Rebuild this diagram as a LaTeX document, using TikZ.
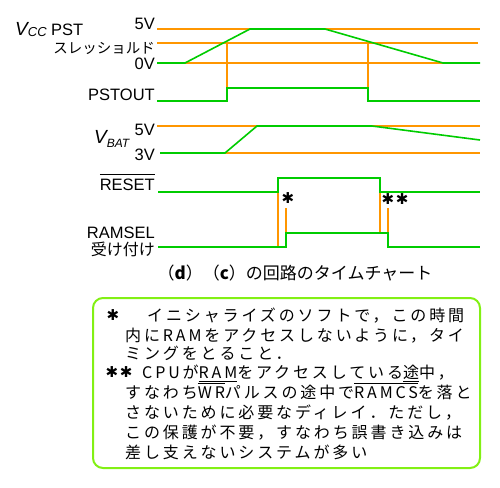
\documentclass[tikz,border=0pt]{standalone}
\usepackage{fontspec}
\setmainfont{Liberation Sans}
\newfontfamily\jpfont{Noto Sans CJK JP}
\newfontfamily\jpwide{Noto Sans CJK JP}[LetterSpace=18]
\newfontfamily\symfont{DejaVu Sans}
\usepackage{xcolor}
\usepackage{tikz}
\usetikzlibrary{positioning}

\definecolor{railorange}{RGB}{255,150,0}
\definecolor{siggreen}{RGB}{0,204,0}
\definecolor{framelime}{RGB}{130,240,20}

\newsavebox\markbox
\newcommand\barred[1]{\sbox\markbox{#1}\rlap{\rule[0.9em]{\wd\markbox}{0.9pt}}\usebox\markbox}
\newcommand\underl[1]{\sbox\markbox{#1}\rlap{\rule[-0.2em]{\wd\markbox}{0.9pt}}\usebox\markbox}
\newcommand\starmark{{\symfont\fontsize{15}{15}\selectfont ✱}}

\begin{document}
\begin{tikzpicture}[
    x=1pt, y=-1pt,
    rail/.style={draw=railorange, line width=1.6pt},
    wave/.style={draw=siggreen, line width=1.6pt},
    lbl/.style={font=\fontsize{16.5}{18}\selectfont, anchor=base east, inner sep=0pt},
    jplbl/.style={font=\jpfont\fontsize{14.5}{16}\selectfont, anchor=east, inner sep=0pt},
    noteline/.style={font=\jpwide\fontsize{16}{18}\selectfont, anchor=base west, inner sep=0pt}
]
\useasboundingbox (0,0) rectangle (500,487);

% === VCC PST / PSTOUT ===
\node[lbl, anchor=base west] (vcc) at (15,36) {{\fontsize{19}{19}\selectfont\itshape V}{\fontsize{13}{13}\selectfont\itshape\raisebox{-1pt}{CC}} PST};
\node[lbl] (vcc5) at (155,30) {5V};
\node[jplbl] (thr) at (155,48) {スレッショルド};
\node[lbl] (vcc0) at (155,70) {0V};
\node[lbl] (pstout) at (155,100) {PSTOUT};

\draw[rail] (157,29) -- (480,29);
\draw[rail] (157,43) -- (478,43);
\draw[rail] (185,63) -- (443,63);
\draw[rail] (227,43) -- (227,88);
\draw[rail] (368,43) -- (368,88);
\draw[wave] (157,63) -- (185,63) -- (250,29) -- (325,29) -- (443,63) -- (480,63);
\draw[wave] (157,101) -- (227,101) -- (227,88) -- (368,88) -- (368,101) -- (480,101);

% === VBAT ===
\node[lbl, anchor=base west] (vbat) at (94,143) {{\fontsize{19}{19}\selectfont\itshape V}{\fontsize{12}{12}\selectfont\itshape\raisebox{-4pt}{BAT}}};
\node[lbl] (bat5) at (155,135) {5V};
\node[lbl] (bat3) at (155,160) {3V};

\draw[rail] (157,126) -- (480,126);
\draw[rail] (225,153) -- (480,153);
\draw[wave] (160,153) -- (225,153) -- (257,126) -- (372,126) -- (480,140);

% === RESET / RAMSEL ===
\node[lbl] (reset) at (155,190) {\barred{RESET}};
\node[lbl] (ramsel) at (155,238) {RAMSEL};
\node[jplbl, font=\jpfont\fontsize{16}{17}\selectfont] (accept) at (155,249) {受け付け};

\draw[rail] (278,192) -- (278,247);
\draw[rail] (286,208) -- (286,233);
\draw[rail] (380,192) -- (380,233);
\draw[rail] (388,208) -- (388,233);
\draw[wave] (158,192) -- (278,192) -- (278,178) -- (380,178) -- (380,192) -- (480,192);
\draw[wave] (158,247) -- (286,247) -- (286,233) -- (388,233) -- (388,247) -- (480,247);

\node[inner sep=0pt] (mark1) at (288,198) {\starmark};
\node[inner sep=0pt] (mark2) at (395,199) {\starmark\,\starmark};

% === CAPTION ===
\node[font=\jpfont\fontsize{17}{18}\selectfont, inner sep=0pt] (caption) at (295,273) {（\textbf{d}）（\textbf{c}）の回路のタイムチャート};

% === NOTE BOX ===
\draw[draw=framelime, line width=2pt, rounded corners=10pt] (93,298) rectangle (480,468);
\node[inner sep=0pt] (note1a) at (113,315) {\starmark};
\node[noteline] (note1) at (147,321.5) {イニシャライズのソフトで，この時間};
\node[noteline] (note2) at (125,341.5) {内にRAMをアクセスしないように，タイ};
\node[noteline] (note3) at (125,359.5) {ミングをとること．};
\node[inner sep=0pt] (note4a) at (119,372) {\starmark\,\starmark};
\node[noteline] (note4) at (142,378.5) {CPUが\underl{RAM}をアクセスしている\underl{途}中，};
\node[noteline] (note5) at (125,398.5) {すなわち\barred{WR}パルスの途中で\barred{RAMCS}を落と};
\node[noteline] (note6) at (125,418.5) {さないために必要なディレイ．ただし，};
\node[noteline] (note7) at (125,438.5) {この保護が不要，すなわち誤書き込みは};
\node[noteline] (note8) at (125,458.5) {差し支えないシステムが多い};

\end{tikzpicture}
\end{document}
